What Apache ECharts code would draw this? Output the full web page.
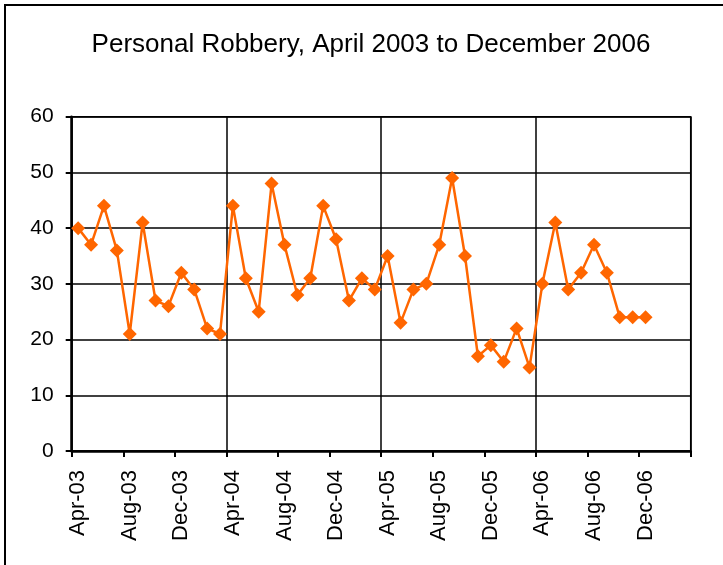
<!DOCTYPE html>
<html><head><meta charset="utf-8">
<script src="https://cdn.jsdelivr.net/npm/echarts@6/dist/echarts.min.js"></script>
<style>html,body{margin:0;padding:0;background:#fff}#c{width:723px;height:565px}</style>
</head><body><div id="c"></div>
<script>
const categories = ['Apr-03','May-03','Jun-03','Jul-03','Aug-03','Sep-03','Oct-03','Nov-03','Dec-03','Jan-04','Feb-04','Mar-04',
'Apr-04','May-04','Jun-04','Jul-04','Aug-04','Sep-04','Oct-04','Nov-04','Dec-04','Jan-05','Feb-05','Mar-05',
'Apr-05','May-05','Jun-05','Jul-05','Aug-05','Sep-05','Oct-05','Nov-05','Dec-05','Jan-06','Feb-06','Mar-06',
'Apr-06','May-06','Jun-06','Jul-06','Aug-06','Sep-06','Oct-06','Nov-06','Dec-06','Jan-07','Feb-07','Mar-07'];
const robbery = [40,37,44,36,21,41,27,26,32,29,22,21,
44,31,25,48,37,28,31,44,38,27,31,29,
35,23,29,30,37,49,35,17,19,16,22,15,
30,41,29,32,37,32,24,24,24,null,null,null];
const yTicks = {min:0, max:60, interval:10};

const chart = echarts.init(document.getElementById('c'));
chart.setOption({
  backgroundColor:'#fff',
  animation:false,
  title:{text:'Personal Robbery, April 2003 to December 2006', left:366, top:27, textAlign:'center',
    textStyle:{fontFamily:'Liberation Sans, Arial', fontSize:26, fontWeight:'normal', color:'#000'}},
  graphic:[{type:'rect', shape:{x:5,y:5,width:740,height:580}, style:{fill:'none', stroke:'#000', lineWidth:2}, silent:true}],
  grid:{left:71.7, right:32.3, top:116.7, bottom:114, show:true, borderColor:'#000', borderWidth:1.5, backgroundColor:'transparent'},
  xAxis:{type:'category', data:categories, boundaryGap:true,
    axisLine:{lineStyle:{color:'#000', width:2.5}},
    axisTick:{show:true, interval:3, length:6, lineStyle:{color:'#000', width:2}},
    axisLabel:{interval:3, rotate:90, margin:19, color:'#000', fontFamily:'Liberation Sans, Arial', fontSize:22},
    splitLine:{show:true, interval:11, lineStyle:{color:'#000', width:1.5}}},
  yAxis:{type:'value', min:yTicks.min, max:yTicks.max, interval:yTicks.interval,
    axisLine:{show:true, lineStyle:{color:'#000', width:2.5}},
    axisTick:{show:true, length:6, lineStyle:{color:'#000', width:2}},
    axisLabel:{margin:18, color:'#000', fontFamily:'Liberation Sans, Arial', fontSize:21},
    splitLine:{show:true, lineStyle:{color:'#000', width:1.5}}},
  series:[{type:'line', data:robbery, symbol:'diamond', symbolSize:14, showAllSymbol:true, connectNulls:false,
    lineStyle:{color:'#FF6600', width:2.5}, itemStyle:{color:'#FF6600'}}]
});
</script></body></html>
